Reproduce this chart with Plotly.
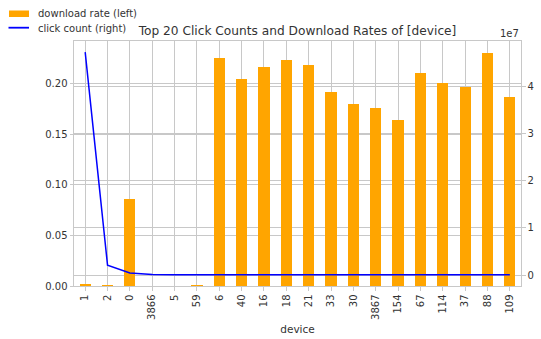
import plotly.graph_objects as go

# Top 20 devices by click count
devices = ["1", "2", "0", "3866", "5", "59", "6", "40", "16", "18",
           "21", "33", "30", "3867", "154", "67", "114", "37", "88", "109"]
download_rate = [0.0012, 0.0006, 0.0861, 0.0, 0.0, 0.0007, 0.2257, 0.2050, 0.2168, 0.2238,
                 0.2188, 0.1920, 0.1800, 0.1760, 0.1640, 0.2110, 0.2010, 0.1970, 0.2310, 0.1870]
click_count = [4.73e7, 0.21e7, 0.042e7, 0.013e7, 0.008e7, 0.006e7, 0.005e7, 0.005e7, 0.005e7, 0.005e7,
               0.005e7, 0.004e7, 0.004e7, 0.004e7, 0.004e7, 0.004e7, 0.004e7, 0.004e7, 0.004e7, 0.004e7]
left_ticks = [0.0, 0.05, 0.10, 0.15, 0.20]
right_ticks = [0, 1e7, 2e7, 3e7, 4e7]

BAR_COLOR = "#ffa500"
LINE_COLOR = "#0000ff"
GRID = "#c8c8c8"
TEXT = "#333333"
FONT = "DejaVu Sans"

fig = go.Figure()
fig.add_trace(go.Bar(x=devices, y=download_rate, width=0.5, marker_color=BAR_COLOR,
                     marker_line_width=0, name="download rate (left)", yaxis="y",
                     showlegend=False))
fig.add_trace(go.Scatter(x=devices, y=click_count, mode="lines",
                         line=dict(color=LINE_COLOR, width=1.5),
                         name="click count (right)", yaxis="y2", showlegend=False))

# axis limits with 5% headroom like the default autoscale
lmax = max(download_rate) * 1.05
cmin, cmax = min(click_count), max(click_count)
pad = (cmax - cmin) * 0.05

fig.update_layout(
    width=541, height=339,
    margin=dict(l=74, r=20, t=41, b=53, autoexpand=False),
    paper_bgcolor="white", plot_bgcolor="white",
    font=dict(family=FONT, size=10, color=TEXT),
    bargap=0,
    title=dict(text="Top 20 Click Counts and Download Rates of [device]",
               x=(74 + 521) / 2 / 541, xanchor="center", y=1 - 31 / 339, yanchor="middle",
               font=dict(size=12.2, color=TEXT)),
    xaxis=dict(type="category", categoryorder="array", categoryarray=devices,
               range=[-0.5, len(devices) - 0.5], tickangle=-90, automargin=False,
               showgrid=True, gridcolor=GRID, gridwidth=1,
               showline=True, linecolor=GRID, linewidth=1, mirror=True,
               ticks="outside", ticklen=3.5, tickcolor=GRID,
               tickfont=dict(size=10, color=TEXT),
               title=dict(text="device", font=dict(size=10.5, color=TEXT), standoff=6)),
    yaxis=dict(range=[0, lmax], tickvals=left_ticks, automargin=False,
               ticktext=[f"{v:.2f}" for v in left_ticks],
               showgrid=True, gridcolor=GRID, gridwidth=1, zeroline=False,
               showline=True, linecolor=GRID, linewidth=1, mirror=True,
               ticks="outside", ticklen=3.5, tickcolor=GRID,
               tickfont=dict(size=10, color=TEXT)),
    yaxis2=dict(range=[cmin - pad, cmax + pad], overlaying="y", side="right",
                automargin=False,
                tickvals=right_ticks, ticktext=[str(int(v / 1e7)) for v in right_ticks],
                showgrid=True, gridcolor=GRID, gridwidth=1, zeroline=False,
                showline=False, ticks="outside", ticklen=3.5, tickcolor=GRID,
                tickfont=dict(size=10, color=TEXT)),
)

# axis offset label for the right axis
fig.add_annotation(text="1e7", xref="paper", yref="paper", x=1.0, y=1.0,
                   xanchor="right", yanchor="bottom", showarrow=False,
                   font=dict(size=10, color=TEXT))

# legend in the upper-left corner of the page
def px_x(px):
    return (px - 74) / 447

def px_y(py):
    return (286 - py) / 245

fig.add_shape(type="rect", xref="paper", yref="paper",
              x0=px_x(9), x1=px_x(29), y0=px_y(17), y1=px_y(10.5),
              fillcolor=BAR_COLOR, line_width=0)
fig.add_shape(type="line", xref="paper", yref="paper",
              x0=px_x(8.5), x1=px_x(29), y0=px_y(27.7), y1=px_y(27.7),
              line=dict(color=LINE_COLOR, width=1.8))
fig.add_annotation(text="download rate (left)", xref="paper", yref="paper",
                   x=px_x(36), y=px_y(13.5), xanchor="left", yanchor="middle",
                   showarrow=False, font=dict(size=10, color=TEXT))
fig.add_annotation(text="click count (right)", xref="paper", yref="paper",
                   x=px_x(36), y=px_y(28), xanchor="left", yanchor="middle",
                   showarrow=False, font=dict(size=10, color=TEXT))

fig.write_html("out.html")
